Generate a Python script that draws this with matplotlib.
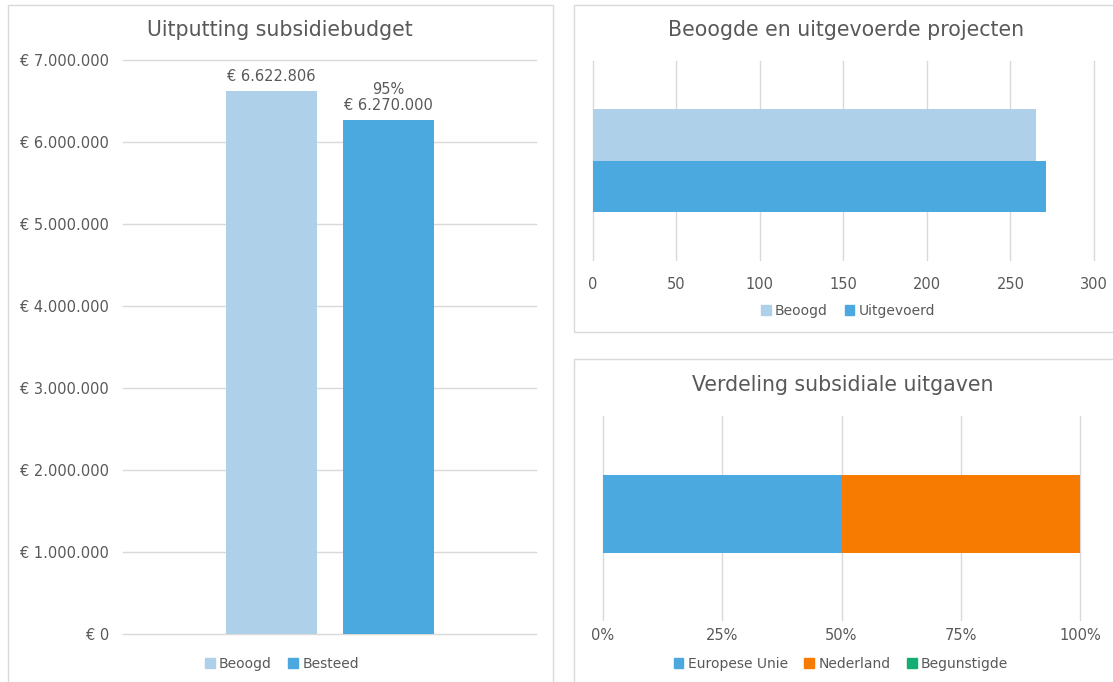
import matplotlib
matplotlib.use("Agg")
import matplotlib.pyplot as plt
from matplotlib.patches import Patch, Rectangle
from matplotlib.ticker import FuncFormatter

# data
budget_series = ["Beoogd", "Besteed"]
budget_values = [6622806, 6270000]
budget_ticks = [0, 1000000, 2000000, 3000000, 4000000, 5000000, 6000000, 7000000]

project_series = ["Beoogd", "Uitgevoerd"]
project_values = [265, 271]
project_ticks = [0, 50, 100, 150, 200, 250, 300]

spend_series = ["Europese Unie", "Nederland", "Begunstigde"]
spend_shares = [0.50, 0.50, 0.0]
spend_ticks = [0, 0.25, 0.5, 0.75, 1.0]

light = "#AED1E9"
blue = "#4BA9E0"
orange = "#F77B00"
green = "#12AE74"
txt = "#595959"
grid = "#D9D9D9"

W, H = 1113, 682
fig = plt.figure(figsize=(W / 100, H / 100), dpi=100)
fig.patch.set_facecolor("white")


def box(x0, y0, x1, y1):
    # pixel coords, y from top
    return [x0 / W, 1 - y1 / H, (x1 - x0) / W, (y1 - y0) / H]


def euro(v):
    return "€ " + f"{v:,.0f}".replace(",", ".")


# panel frames
for x0, y0, x1, y1 in [(8, 5, 553, 700), (574, 5, 1130, 332), (574, 359, 1130, 700)]:
    fig.patches.append(Rectangle((x0 / W, 1 - y1 / H), (x1 - x0) / W, (y1 - y0) / H,
                                 transform=fig.transFigure, fill=False,
                                 edgecolor=grid, lw=1.0))


def clean(ax):
    for s in ax.spines.values():
        s.set_visible(False)
    ax.tick_params(length=0, labelcolor=txt, labelsize=10.5)
    ax.set_axisbelow(True)


def unclip(lines):
    for ln in lines:
        ln.set_clip_on(False)


# --- left: Uitputting subsidiebudget
ax1 = fig.add_axes(box(123, 60, 536, 634))
clean(ax1)
offsets = [-0.14, 0.143]
colors1 = [light, blue]
for off, v, c in zip(offsets, budget_values, colors1):
    ax1.bar(off, v, width=0.22, color=c)
ax1.set_xlim(-0.5, 0.5)
ax1.set_ylim(0, 7000000)
ax1.set_yticks(budget_ticks)
ax1.yaxis.set_major_formatter(FuncFormatter(lambda v, p: euro(v)))
ax1.set_xticks([])
ax1.yaxis.grid(True, color=grid, lw=1)
unclip(ax1.get_ygridlines())
ax1.tick_params(axis="y", pad=10)
pct = round(100 * budget_values[1] / budget_values[0])
ax1.text(offsets[0], budget_values[0] + 80000, euro(budget_values[0]),
         ha="center", va="bottom", color=txt, fontsize=10.5)
ax1.text(offsets[1], budget_values[1] + 80000, f"{pct}%\n{euro(budget_values[1])}",
         ha="center", va="bottom", color=txt, fontsize=10.5, linespacing=1.15)
fig.text(280 / W, 1 - 30 / H, "Uitputting subsidiebudget", ha="center", va="center",
         color=txt, fontsize=14.8)
fig.legend(handles=[Patch(color=c, label=l) for c, l in zip(colors1, budget_series)],
           loc="center", bbox_to_anchor=(282 / W, 1 - 664 / H), ncol=2, frameon=False,
           fontsize=10, handlelength=0.7, handleheight=0.7, handletextpad=0.3,
           columnspacing=1.2, labelcolor=txt)

# --- top right: Beoogde en uitgevoerde projecten
ax2 = fig.add_axes(box(592.7, 61, 1094, 260))
clean(ax2)
colors2 = [light, blue]
ypos = [0.13, -0.13]
for y, v, c in zip(ypos, project_values, colors2):
    ax2.barh(y, v, height=0.26, color=c)
ax2.set_ylim(-0.5, 0.5)
ax2.set_xlim(0, 300)
ax2.set_xticks(project_ticks)
ax2.set_yticks([])
ax2.xaxis.grid(True, color=grid, lw=1)
unclip(ax2.get_xgridlines())
ax2.tick_params(axis="x", pad=12)
fig.text(846 / W, 1 - 30 / H, "Beoogde en uitgevoerde projecten", ha="center",
         va="center", color=txt, fontsize=14.8)
fig.legend(handles=[Patch(color=c, label=l) for c, l in zip(colors2, project_series)],
           loc="center", bbox_to_anchor=(848 / W, 1 - 311 / H), ncol=2, frameon=False,
           fontsize=10, handlelength=0.7, handleheight=0.7, handletextpad=0.3,
           columnspacing=1.2, labelcolor=txt)

# --- bottom right: Verdeling subsidiale uitgaven
ax3 = fig.add_axes(box(603, 416, 1080, 620))
clean(ax3)
colors3 = [blue, orange, green]
left = 0
for s, c in zip(spend_shares, colors3):
    ax3.barh(0.02, s, left=left, height=0.38, color=c)
    left += s
ax3.set_ylim(-0.5, 0.5)
ax3.set_xlim(0, 1)
ax3.set_xticks(spend_ticks)
ax3.xaxis.set_major_formatter(FuncFormatter(lambda v, p: f"{v:.0%}"))
ax3.set_yticks([])
ax3.xaxis.grid(True, color=grid, lw=1)
unclip(ax3.get_xgridlines())
ax3.tick_params(axis="x", pad=6)
fig.text(843 / W, 1 - 385 / H, "Verdeling subsidiale uitgaven", ha="center",
         va="center", color=txt, fontsize=14.8)
fig.legend(handles=[Patch(color=c, label=l) for c, l in zip(colors3, spend_series)],
           loc="center", bbox_to_anchor=(841 / W, 1 - 664 / H), ncol=3, frameon=False,
           fontsize=10, handlelength=0.7, handleheight=0.7, handletextpad=0.3,
           columnspacing=1.2, labelcolor=txt)

fig.savefig("out.png", dpi=100)
